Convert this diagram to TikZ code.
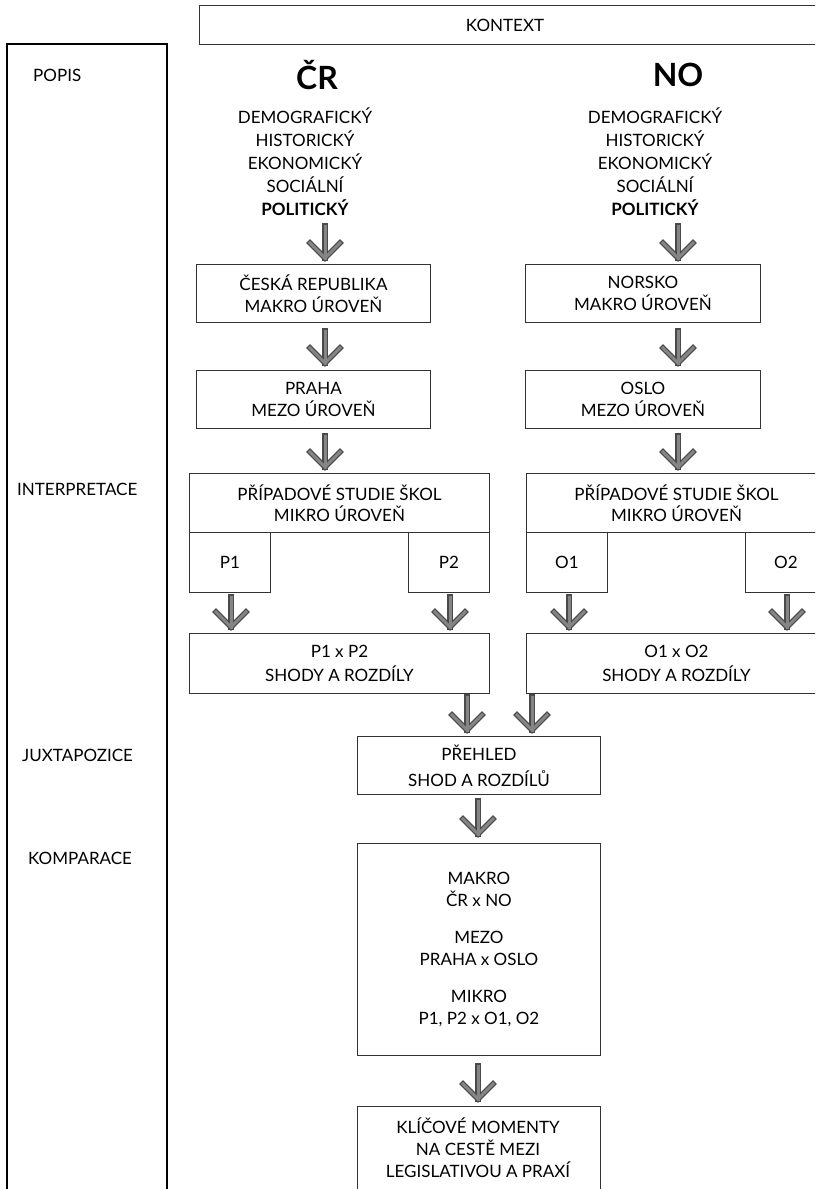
\documentclass[tikz,border=0pt]{standalone}
\usepackage{fontspec}
\setmainfont{Lato}
\usetikzlibrary{calc}
\definecolor{boxline}{HTML}{333333}
\definecolor{arrowedge}{HTML}{4A4A4A}
\definecolor{arrowfill}{HTML}{858585}
\tikzset{
  box/.style={draw=boxline, line width=0.9pt, fill=white, inner sep=0pt, anchor=north west, align=center,
              font=\fontsize{17}{21.5}\selectfont},
  txt/.style={inner sep=0pt, align=center, font=\fontsize{17}{23}\selectfont},
  lbl/.style={inner sep=0pt, anchor=west, font=\fontsize{17}{20}\selectfont},
  ttl/.style={inner sep=0pt, font=\bfseries\fontsize{32}{32}\selectfont},
}
\newcommand{\flowarr}[2]{%
  \foreach \w/\c in {5.6pt/arrowedge,3.0pt/arrowfill}{%
    \draw[line width=\w, draw=\c, line join=miter, line cap=rect] (#1) -- (#2);
    \draw[line width=\w, draw=\c, line join=miter, line cap=rect] ($(#2)+(-15,-15)$) -- (#2) -- ($(#2)+(15,-15)$);
  }}
\begin{document}
\begin{tikzpicture}[x=1pt,y=-1pt]
\useasboundingbox (0,0) rectangle (815,1189);
\clip (0,0) rectangle (815,1189);
% context bar and left panel
\draw[draw=boxline, line width=1pt] (199,5) rectangle (840,44);
\node[txt] (ctx) at (505,25) {KONTEXT};
\draw[draw=black, line width=1.1pt] (7,44) rectangle (167,1200);
\node[lbl] (popis) at (33,75) {POPIS};
\node[lbl] (interp) at (17,489) {INTERPRETACE};
\node[lbl] (juxta) at (22,755) {JUXTAPOZICE};
\node[lbl] (kompar) at (28,858) {KOMPARACE};
% titles
\node[ttl] (crt) at (317,75) {ČR};
\node[ttl] (not) at (678,75) {NO};
\node[txt] (crl) at (305,162) {DEMOGRAFICKÝ\\HISTORICKÝ\\EKONOMICKÝ\\SOCIÁLNÍ\\\textbf{POLITICKÝ}};
\node[txt] (nol) at (655,162) {DEMOGRAFICKÝ\\HISTORICKÝ\\EKONOMICKÝ\\SOCIÁLNÍ\\\textbf{POLITICKÝ}};
% macro
\node[box, minimum width=234, minimum height=58] (crmak) at (196,264) {ČESKÁ REPUBLIKA\\MAKRO ÚROVEŇ};
\node[box, minimum width=235, minimum height=58] (nomak) at (525,264) {NORSKO\\MAKRO ÚROVEŇ};
% mezo
\node[box, minimum width=234, minimum height=58] (crmez) at (196,370) {PRAHA\\MEZO ÚROVEŇ};
\node[box, minimum width=235, minimum height=58] (nomez) at (525,370) {OSLO\\MEZO ÚROVEŇ};
% micro
\node[box, minimum width=300, minimum height=59] (crmik) at (189,473) {PŘÍPADOVÉ STUDIE ŠKOL\\MIKRO ÚROVEŇ};
\node[box, minimum width=300, minimum height=59] (nomik) at (526,473) {PŘÍPADOVÉ STUDIE ŠKOL\\MIKRO ÚROVEŇ};
\node[box, minimum width=81, minimum height=60] (p1) at (189,532) {P1};
\node[box, minimum width=81, minimum height=60] (p2) at (408,532) {P2};
\node[box, minimum width=81, minimum height=60] (o1) at (526,532) {O1};
\node[box, minimum width=81, minimum height=60] (o2) at (745,532) {O2};
% comparisons
\node[box, minimum width=300, minimum height=60, font=\fontsize{17}{24}\selectfont] (pp) at (189,633) {P1 x P2\\SHODY A ROZDÍLY};
\node[box, minimum width=300, minimum height=60, font=\fontsize{17}{24}\selectfont] (oo) at (526,633) {O1 x O2\\SHODY A ROZDÍLY};
\node[box, minimum width=243, minimum height=58, font=\fontsize{17}{26}\selectfont] (preh) at (357,736) {PŘEHLED\\SHOD A ROZDÍLŮ};
\node[box, minimum width=243, minimum height=212, font=\fontsize{17}{21.5}\selectfont] (komp) at (357,843) {MAKRO\\ČR x NO\\[16pt]MEZO\\PRAHA x OSLO\\[16pt]MIKRO\\P1, P2 x O1, O2};
\node[box, minimum width=243, minimum height=100] (klic) at (357,1106) {};
\node[txt, font=\fontsize{17}{22}\selectfont] (klict) at (478,1148) {KLÍČOVÉ MOMENTY\\NA CESTĚ MEZI\\LEGISLATIVOU A PRAXÍ};
% arrow coordinates
\coordinate (a1s) at (325,226); \coordinate (a1e) at (325,258);
\coordinate (b1s) at (678,226); \coordinate (b1e) at (678,258);
\coordinate (a2s) at (325,331); \coordinate (a2e) at (325,363);
\coordinate (b2s) at (678,331); \coordinate (b2e) at (678,363);
\coordinate (a3s) at (325,436); \coordinate (a3e) at (325,467);
\coordinate (b3s) at (678,436); \coordinate (b3e) at (678,467);
\coordinate (p1s) at (231,597); \coordinate (p1e) at (231,627);
\coordinate (p2s) at (450,597); \coordinate (p2e) at (450,627);
\coordinate (o1s) at (569,597); \coordinate (o1e) at (569,627);
\coordinate (o2s) at (787,597); \coordinate (o2e) at (787,627);
\coordinate (m1s) at (467,697); \coordinate (m1e) at (467,730);
\coordinate (m2s) at (532,697); \coordinate (m2e) at (532,730);
\coordinate (k1s) at (478,801); \coordinate (k1e) at (478,834);
\coordinate (k2s) at (478,1066); \coordinate (k2e) at (478,1099);
\flowarr{a1s}{a1e}\flowarr{b1s}{b1e}
\flowarr{a2s}{a2e}\flowarr{b2s}{b2e}
\flowarr{a3s}{a3e}\flowarr{b3s}{b3e}
\flowarr{p1s}{p1e}\flowarr{p2s}{p2e}
\flowarr{o1s}{o1e}\flowarr{o2s}{o2e}
\flowarr{m1s}{m1e}\flowarr{m2s}{m2e}
\flowarr{k1s}{k1e}\flowarr{k2s}{k2e}
\end{tikzpicture}
\end{document}
